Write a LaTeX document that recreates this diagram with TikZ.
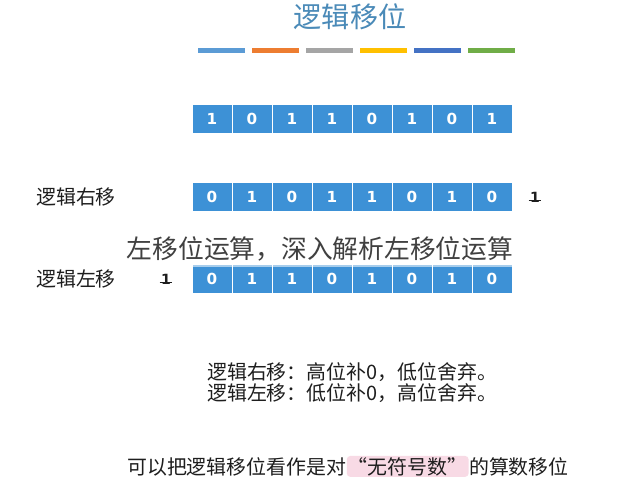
\documentclass[tikz,border=0pt]{standalone}
\usepackage{fontspec}
\setmainfont{DejaVu Sans}
\newfontfamily\cjk{Noto Sans CJK SC}
\usetikzlibrary{positioning}
\definecolor{cellblue}{RGB}{61,145,214}
\definecolor{titleblue}{RGB}{74,138,184}
\definecolor{darktext}{RGB}{30,30,30}
\definecolor{markpink}{RGB}{248,218,229}
\definecolor{barA}{RGB}{91,155,213}
\definecolor{barB}{RGB}{237,125,49}
\definecolor{barC}{RGB}{165,165,165}
\definecolor{barD}{RGB}{255,192,0}
\definecolor{barE}{RGB}{68,114,196}
\definecolor{barF}{RGB}{112,173,71}
\tikzset{
  bitcell/.style={draw=white, line width=0.8pt, fill=cellblue, text=white,
    minimum width=1.2cm, minimum height=0.87cm, inner sep=0pt,
    font=\bfseries\fontsize{13}{15}\selectfont},
  cjktext/.style={text=darktext, inner sep=0pt, font=\cjk\fontsize{17}{20}\selectfont},
  dropbit/.style={text=darktext, inner sep=1pt, font=\bfseries\fontsize{12}{14}\selectfont}
}
\begin{document}
\begin{tikzpicture}[x=0.03cm,y=-0.03cm] % ------ pixel grid -----------------
    \useasboundingbox[fill=white] (0,0) rectangle (638,490);
    % titre et barres de couleur
    \node [text=titleblue, font=\cjk\fontsize{24}{28}\selectfont] (title) at (350,17) {逻辑移位};
    \foreach \c [count=\i from 0] in {barA,barB,barC,barD,barE,barF}
      \fill [\c] (198+54*\i,48) rectangle (245+54*\i,53);
    % les trois registres
    \foreach \b [count=\i from 0] in {1,0,1,1,0,1,0,1}
      \node [bitcell] (orig\i) at (212+40*\i,119) {\b};
    \foreach \b [count=\i from 0] in {0,1,0,1,1,0,1,0}
      \node [bitcell] (shr\i) at (212+40*\i,197) {\b};
    \foreach \b [count=\i from 0] in {0,1,1,0,1,0,1,0}
      \node [bitcell] (shl\i) at (212+40*\i,279) {\b};
    \node [cjktext] (labR) at (76,197) {逻辑右移};
    \node [cjktext] (labL) at (76,279) {逻辑左移};
    % bits perdus
    \node [dropbit] (dropR) at (535,197) {1};
    \draw [darktext, line width=0.7pt] ([yshift=-2.5pt]dropR.west) -- ([yshift=-2.5pt]dropR.east);
    \node [dropbit] (dropL) at (166,279) {1};
    \draw [darktext, line width=0.7pt] ([yshift=-2.5pt]dropL.west) -- ([yshift=-2.5pt]dropL.east);
    % bandeau superpose
    \node [fill=white, fill opacity=0.55, text opacity=1, text=darktext!85, inner xsep=2pt,
      inner ysep=5pt, font=\cjk\fontsize{22}{26}\selectfont] (banner) at (320,249) {左移位运算，深入解析左移位运算};
    % regles
    \node [cjktext, anchor=west] (ruleR) at (207,372) {逻辑右移：高位补0，低位舍弃。};
    \node [cjktext, anchor=west] (ruleL) at (207,393) {逻辑左移：低位补0，高位舍弃。};
    % conclusion
    \node [cjktext, anchor=base west] (concA) at (127,474) {可以把逻辑移位看作是对};
    \node [cjktext, anchor=base west, fill=markpink, rounded corners=3pt, inner xsep=1pt,
      inner ysep=1pt] (concB) at (concA.base east) {“无符号数”};
    \node [cjktext, anchor=base west] (concC) at (concB.base east) {的算数移位};
\end{tikzpicture}
\end{document}
